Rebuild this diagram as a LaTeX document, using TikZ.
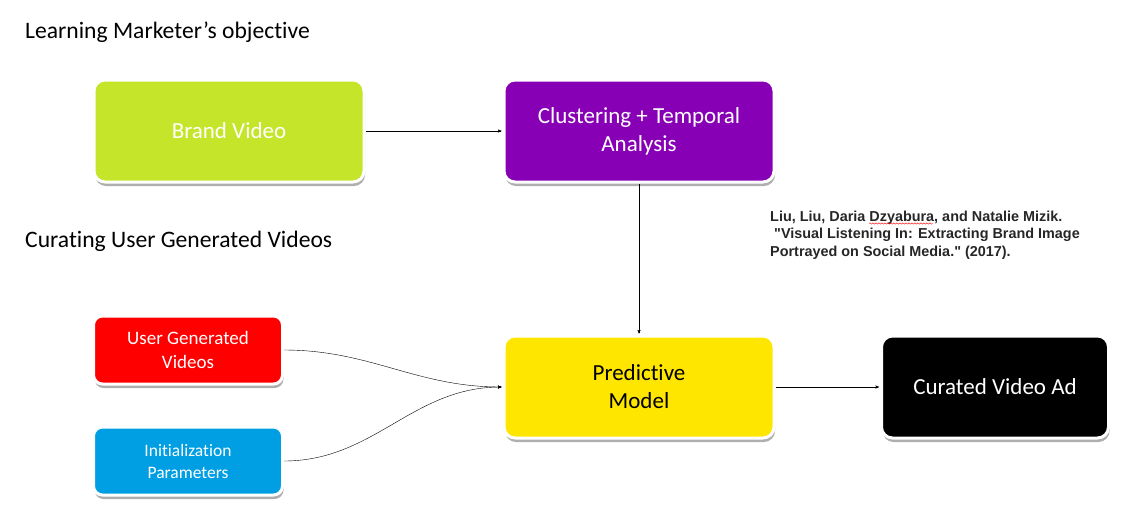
\documentclass[tikz,border=0pt]{standalone}
\usepackage{fontspec}
\setmainfont{Carlito}[Ligatures=NoCommon]
\newfontfamily\citefont{Liberation Sans}
\usepackage{tikz}
\usetikzlibrary{arrows,shadows,decorations.pathmorphing,positioning}

\definecolor{limegreen}{RGB}{196,229,42}
\definecolor{darkviolet}{RGB}{136,0,182}
\definecolor{ugvred}{RGB}{255,0,0}
\definecolor{paramblue}{RGB}{0,158,226}
\definecolor{modelyellow}{RGB}{255,230,0}

\begin{document}
\begin{tikzpicture}
[x=1pt,y=1pt,->,>=stealth',shorten >=1pt,
stage/.style={rectangle,rounded corners=11pt,draw=white,line width=3pt,
  minimum width=270pt,minimum height=102pt,align=center,text=white,
  font=\fontsize{23}{28}\selectfont,
  drop shadow={shadow xshift=1pt,shadow yshift=-4pt,opacity=0.45,fill=black!70}},
source/.style={stage,minimum width=189pt,minimum height=68pt,rounded corners=9pt},
heading/.style={anchor=base west,inner sep=0pt,font=\fontsize{23.6}{28}\selectfont}]
\useasboundingbox (0,0) rectangle (1140,-523);

% headings
\node[heading] at (25,-38)  (h1) {Learning Marketer’s objective};
\node[heading] at (25,-247) (h2) {Curating User Generated Videos};

% boxes
\node[stage,fill=limegreen]   at (229,-131) (bv) {Brand Video};
\node[stage,fill=darkviolet]  at (639,-131) (ct) {Clustering + Temporal\\Analysis};
\node[source,fill=ugvred,font=\fontsize{19}{23.5}\selectfont]    at (188,-350) (ugv) {User Generated\\Videos};
\node[source,fill=paramblue,font=\fontsize{17.5}{22}\selectfont] at (188,-461) (ip) {Initialization\\Parameters};
\node[stage,fill=modelyellow,text=black] at (639,-387) (pm) {Predictive\\Model};
\node[stage,fill=black,minimum width=227pt] at (995,-387) (ad) {Curated Video Ad};

% reference
\node[anchor=base west,inner sep=0pt,align=left,font=\citefont\bfseries\fontsize{14.4}{17.5}\selectfont,text=black!85]
  at (770,-256) (ref) {Liu, Liu, Daria Dzyabura, and Natalie Mizik.\\
  \ "Visual Listening In: Extracting Brand Image\\Portrayed on Social Media." (2017).};
\draw[-,shorten >=0pt,red,thin,decorate,decoration={snake,amplitude=0.7pt,segment length=3pt}]
  (869,-223.5) -- (933,-223.5);

\path [->] (bv) edge node {} (ct);
\path [->] (ct) edge node {} (pm);
\path [->] (ugv.east) edge [out=0,in=180] node {} (pm.west);
\path [->] (ip.east) edge [out=0,in=180] node {} (pm.west);
\path [->] (pm) edge node {} (ad);
\end{tikzpicture}
\end{document}
